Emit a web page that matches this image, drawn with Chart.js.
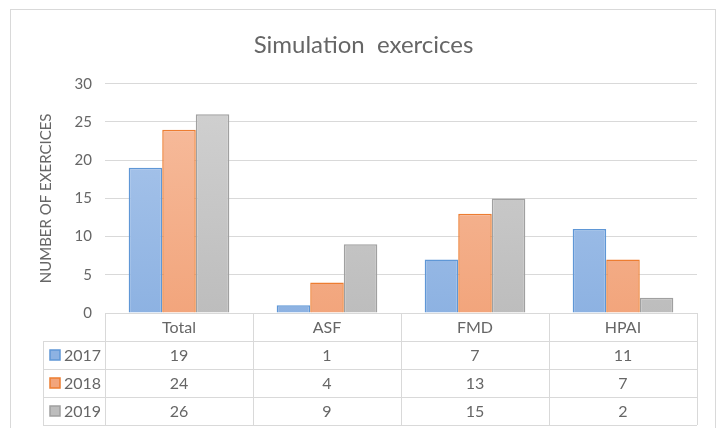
<!DOCTYPE html>
<html>
<head>
<meta charset="utf-8">
<script src="https://cdn.jsdelivr.net/npm/chart.js@4/dist/chart.umd.min.js"></script>
<style>
  html, body { margin: 0; padding: 0; background: #fff; }
  #wrap { width: 717px; height: 428px; }
</style>
</head>
<body>
<div id="wrap"><canvas id="graficoEjercicios"></canvas></div>
<script>
// datos del gráfico
const categorias = ['Total', 'ASF', 'FMD', 'HPAI'];
const anios = ['2017', '2018', '2019'];
const valores2017 = [19, 1, 7, 11];
const valores2018 = [24, 4, 13, 7];
const valores2019 = [26, 9, 15, 2];
const ticksY = [0, 5, 10, 15, 20, 25, 30];

const gris = '#666666';
const lineaTabla = '#d9d9d9';

// colores tipo Excel: [arriba, abajo, borde]
const coloresSerie = [
  ['#adc8ec', '#8db2e2', '#5f97d6'],
  ['#f7bea0', '#f2a57c', '#ed7d31'],
  ['#d2d2d2', '#bdbdbd', '#a0a0a0']
];

function degradado(i) {
  return (ctx) => {
    const area = ctx.chart.chartArea;
    if (!area) return coloresSerie[i][1];
    const g = ctx.chart.ctx.createLinearGradient(0, area.top, 0, area.bottom);
    g.addColorStop(0, coloresSerie[i][0]);
    g.addColorStop(1, coloresSerie[i][1]);
    return g;
  };
}

const series = [valores2017, valores2018, valores2019];

// marco y tabla de datos debajo del eje
const tablaDatos = {
  id: 'tablaDatos',
  beforeDraw(chart) {
    const c = chart.ctx;
    c.save();
    c.strokeStyle = lineaTabla;
    c.lineWidth = 1;
    c.strokeRect(10.5, 9.5, 705, 430);
    c.restore();
  },
  afterDraw(chart) {
    const c = chart.ctx;
    const x = chart.scales.x;
    const area = chart.chartArea;
    const ancho = (area.right - area.left) / categorias.length;
    const filaAlto = 28;
    const top = area.bottom;
    const izq = 43;

    c.save();
    c.strokeStyle = lineaTabla;
    c.lineWidth = 1;
    c.beginPath();
    // lineas horizontales
    c.moveTo(area.left, top + 0.5);
    c.lineTo(area.right, top + 0.5);
    for (let r = 1; r <= anios.length + 1; r++) {
      const y = Math.round(top + r * filaAlto) + 0.5;
      c.moveTo(izq, y);
      c.lineTo(area.right, y);
    }
    // lineas verticales
    const yFin = top + (anios.length + 1) * filaAlto;
    c.moveTo(izq + 0.5, top + filaAlto);
    c.lineTo(izq + 0.5, yFin);
    for (let i = 0; i <= categorias.length; i++) {
      const xx = Math.round(area.left + i * ancho) + 0.5;
      c.moveTo(xx, top);
      c.lineTo(xx, yFin);
    }
    c.stroke();

    c.fillStyle = gris;
    c.textBaseline = 'middle';
    c.textAlign = 'center';
    c.font = '16px Lato';
    categorias.forEach((cat, i) => {
      c.fillText(cat, x.getPixelForValue(i), top + filaAlto / 2 + 1);
    });
    series.forEach((vals, s) => {
      const yc = top + (s + 1) * filaAlto + filaAlto / 2 + 1;
      vals.forEach((v, i) => {
        c.fillText(String(v), x.getPixelForValue(i), yc);
      });
    });

    // leyenda en la tabla
    anios.forEach((a, s) => {
      const yc = top + (s + 1) * filaAlto + filaAlto / 2;
      c.fillStyle = coloresSerie[s][1];
      c.strokeStyle = coloresSerie[s][2];
      c.lineWidth = 1.5;
      c.fillRect(50, yc - 5, 10, 10);
      c.strokeRect(50, yc - 5, 10, 10);
      c.fillStyle = gris;
      c.textAlign = 'left';
      c.font = '16px Lato';
      c.fillText(a, 64, yc + 1);
    });
    c.restore();
  }
};

new Chart(document.getElementById('graficoEjercicios'), {
  type: 'bar',
  data: {
    labels: categorias,
    datasets: anios.map((a, i) => ({
      label: a,
      data: series[i],
      backgroundColor: degradado(i),
      borderColor: coloresSerie[i][2],
      borderWidth: 1.5,
      borderSkipped: 'bottom',
      categoryPercentage: 0.68,
      barPercentage: 1
    }))
  },
  options: {
    responsive: true,
    maintainAspectRatio: false,
    animation: false,
    layout: { padding: { left: 30, right: 20, top: 0, bottom: 115 } },
    plugins: {
      legend: { display: false },
      tooltip: { enabled: false },
      title: {
        display: true,
        text: 'Simulation  exercices',
        color: gris,
        font: { family: 'Lato', size: 24, weight: 'normal' },
        padding: { top: 31, bottom: 24 }
      }
    },
    scales: {
      x: { display: false },
      y: {
        min: 0,
        max: 30,
        afterBuildTicks: (scale) => { scale.ticks = ticksY.map(v => ({ value: v })); },
        afterFit: (scale) => { scale.width = 75; },
        ticks: { color: gris, font: { family: 'Lato', size: 15 }, padding: 13 },
        grid: { color: lineaTabla, drawTicks: false },
        border: { display: false },
        title: {
          display: true,
          text: 'NUMBER OF EXERCICES',
          color: gris,
          font: { family: 'Lato', size: 15 },
          padding: { top: 7, bottom: 0 }
        }
      }
    }
  },
  plugins: [tablaDatos]
});
</script>
</body>
</html>
